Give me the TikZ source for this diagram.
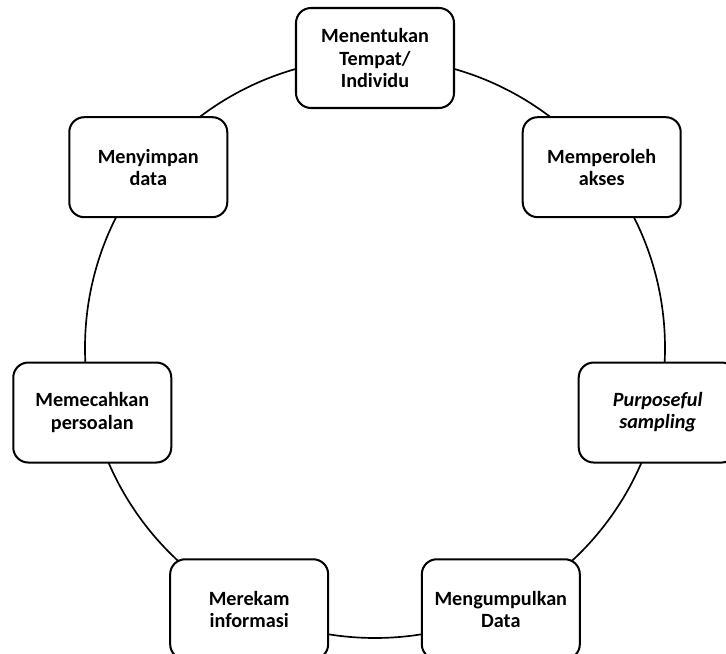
\documentclass[tikz,border=0pt]{standalone}
\usepackage{fontspec}
\setmainfont{Carlito}
\usepackage{tikz}

\tikzset{tahap/.style={draw, line width=1.15pt, rounded corners=0.3cm, fill=white, minimum width=3.16cm, minimum height=2cm, align=center, font=\fontsize{11.5}{12.6}\selectfont\bfseries}}

\begin{document}
\begin{tikzpicture}
  \clip (-7.5,-6.12) rectangle (7.02,6.96); \useasboundingbox (-7.5,-6.12) rectangle (7.02,6.96);
  \coordinate (pusat) at (0,0); \draw[line width=0.95pt] (pusat) circle (5.8);
  % tujuh tahap, sudut 360/7
  \node[tahap] (tempat) at (90:5.8) {Menentukan\\Tempat/\\Individu};
  \node[tahap] (akses) at ({90-360/7}:5.8) {Memperoleh\\akses};
  \node[tahap] (sampling) at ({90-2*360/7}:5.8) {\textit{Purposeful}\\\textit{sampling}};
  \node[tahap] (kumpul) at ({90-3*360/7}:5.8) {Mengumpulkan\\Data};
  \node[tahap] (rekam) at ({90-4*360/7}:5.8) {Merekam\\informasi};
  \node[tahap] (pecah) at ({90-5*360/7}:5.8) {Memecahkan\\persoalan};
  \node[tahap] (simpan) at ({90-6*360/7}:5.8) {Menyimpan\\data};
\end{tikzpicture}
\end{document}
